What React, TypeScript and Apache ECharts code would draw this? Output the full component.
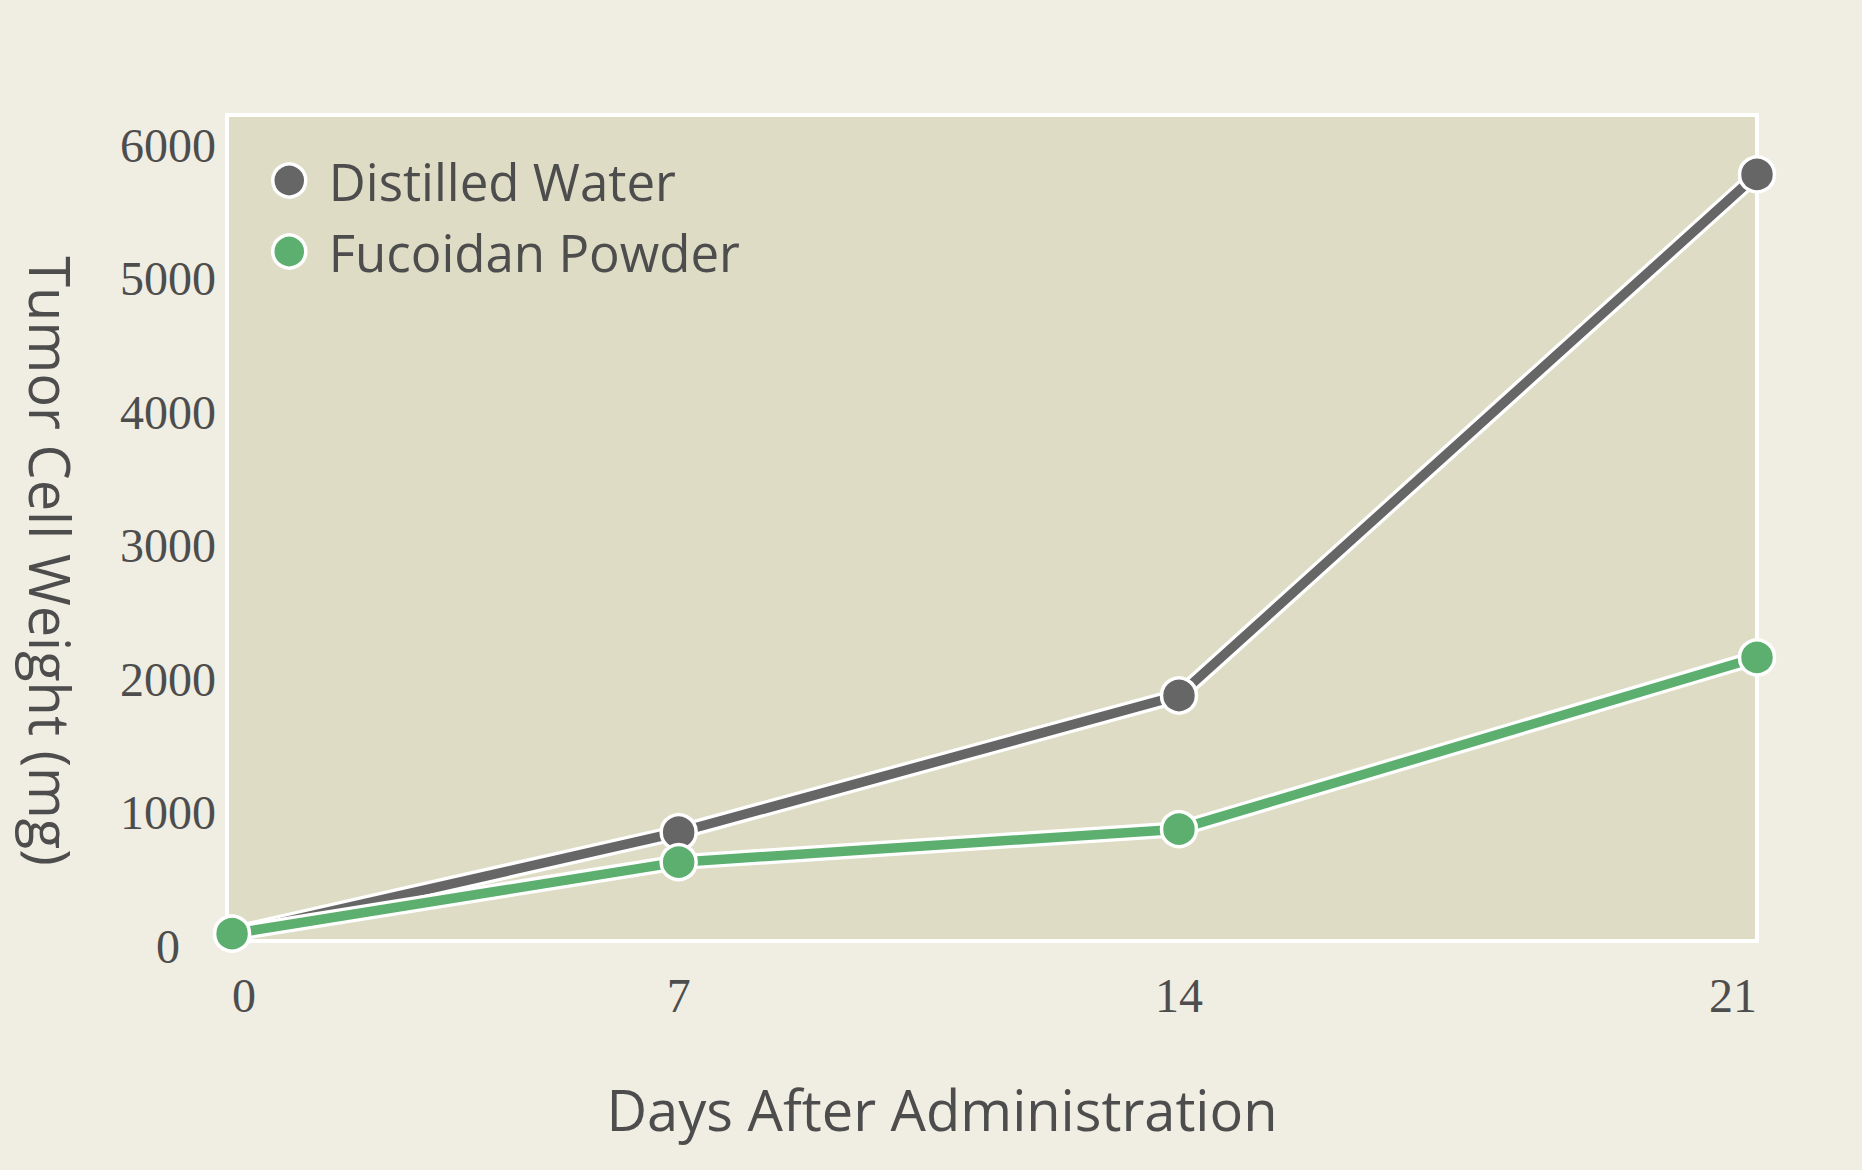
import { useEffect, useRef } from 'react';
import * as echarts from 'echarts';

// Values
const seriesNames = ['Distilled Water', 'Fucoidan Powder'];
const dayLabels = ['0', '7', '14', '21'];
// day positions of the points as they sit on the horizontal axis
const dayValues = [0, 6.15, 13.04, 21];
const distilledWater = [55, 815, 1840, 5745];
const fucoidanPowder = [55, 591, 838, 2125];
const yTicks = [0, 1000, 2000, 3000, 4000, 5000, 6000];

const colors = ['#666666', '#5DAF6F'];
const sansFont = '"Open Sans", "Noto Sans", sans-serif';
const serifFont = '"Liberation Serif", "DejaVu Serif", serif';
const textColor = '#4D4D4D';

export default function App() {
  const chartRef = useRef<HTMLDivElement>(null);

  useEffect(() => {
    if (!chartRef.current) return;
    const chart = echarts.init(chartRef.current, null, { renderer: 'svg' });

    const groups = [distilledWater, fucoidanPowder];

    // white halo underneath each line, then the coloured line with markers
    const series: any[] = [];
    groups.forEach((values, i) => {
      const data = values.map((v, k) => [dayValues[k], v]);
      series.push({
        name: seriesNames[i] + ' outline',
        type: 'line',
        data,
        showSymbol: false,
        symbol: 'none',
        clip: false,
        lineStyle: { color: '#FFFFFF', width: 16 },
        silent: true,
        z: 2 + i * 2,
      });
      series.push({
        name: seriesNames[i],
        type: 'line',
        data,
        symbol: 'circle',
        symbolSize: 35,
        clip: false,
        lineStyle: { color: colors[i], width: 9.5 },
        itemStyle: { color: colors[i], borderColor: '#FFFFFF', borderWidth: 3.5 },
        z: 3 + i * 2,
      });
    });

    const option: any = {
      animation: false,
      backgroundColor: '#F0EEE2',
      grid: {
        left: 227,
        right: 105,
        top: 115,
        bottom: 229,
        show: true,
        backgroundColor: '#DFDCC5',
        borderColor: '#FFFFFF',
        borderWidth: 4,
      },
      legend: {
        orient: 'vertical',
        left: 266,
        top: 150,
        icon: 'circle',
        itemWidth: 33,
        itemHeight: 33,
        itemGap: 20,
        data: seriesNames,
        itemStyle: { borderColor: '#FFFFFF', borderWidth: 3.5 },
        textStyle: {
          fontFamily: sansFont,
          fontSize: 51,
          lineHeight: 50,
          color: textColor,
          padding: [0, 0, 0, 18],
        },
      },
      xAxis: {
        type: 'value',
        min: -0.07,
        max: 21,
        name: 'Days After Administration',
        nameLocation: 'middle',
        nameGap: 140,
        nameTextStyle: {
          fontFamily: sansFont,
          fontSize: 56,
          color: textColor,
          padding: [0, 100, 0, 0],
        },
        axisLine: { show: false },
        axisTick: { show: false },
        splitLine: { show: false },
        axisLabel: {
          customValues: dayValues,
          formatter: (v: number) => {
            const k = dayValues.findIndex(d => Math.abs(d - v) < 1e-6);
            return k >= 0 ? dayLabels[k] : '';
          },
          alignMinLabel: 'left',
          alignMaxLabel: 'right',
          margin: 30,
          fontFamily: serifFont,
          fontSize: 48,
          color: textColor,
        },
      },
      yAxis: {
        type: 'value',
        min: 0,
        max: 6190,
        name: 'Tumor Cell Weight (mg)',
        nameLocation: 'middle',
        nameRotate: -90,
        nameGap: 148,
        nameTextStyle: {
          fontFamily: sansFont,
          fontSize: 56,
          color: textColor,
          padding: [0, 0, 0, 66],
        },
        axisLine: { show: false },
        axisTick: { show: false },
        splitLine: { show: false },
        axisLabel: {
          customValues: yTicks,
          formatter: (v: number) => '{t|' + v + '}',
          align: 'center',
          margin: 59,
          fontFamily: serifFont,
          fontSize: 48,
          color: textColor,
          rich: {
            t: {
              fontFamily: serifFont,
              fontSize: 48,
              color: textColor,
              padding: [10, 0, 0, 0],
            },
          },
        },
      },
      series,
    };

    chart.setOption(option);

    const handleResize = () => chart.resize();
    window.addEventListener('resize', handleResize);
    return () => {
      window.removeEventListener('resize', handleResize);
      chart.dispose();
    };
  }, []);

  return (
    <div
      ref={chartRef}
      style={{ position: 'fixed', left: 0, top: 0, width: '1862px', height: '1170px' }}
    />
  );
}
